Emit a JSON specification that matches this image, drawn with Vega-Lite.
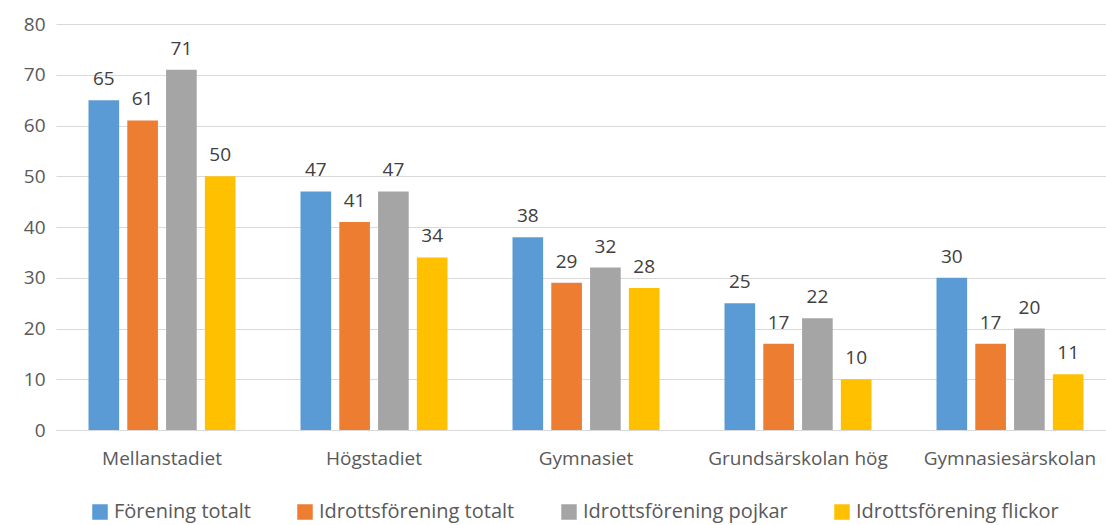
{
  "$schema": "https://vega.github.io/schema/vega-lite/v6.json",
  "autosize": "none",
  "width": 1060,
  "height": 406,
  "padding": {"left": 56, "top": 24, "right": 0, "bottom": 95},
  "background": "white",
  "config": {
    "font": "Open Sans",
    "view": {"stroke": null}
  },
  "data": {
    "values": [
      {"stadium": "Mellanstadiet", "serie": "Förening totalt", "varde": 65},
      {"stadium": "Mellanstadiet", "serie": "Idrottsförening totalt", "varde": 61},
      {"stadium": "Mellanstadiet", "serie": "Idrottsförening pojkar", "varde": 71},
      {"stadium": "Mellanstadiet", "serie": "Idrottsförening flickor", "varde": 50},
      {"stadium": "Högstadiet", "serie": "Förening totalt", "varde": 47},
      {"stadium": "Högstadiet", "serie": "Idrottsförening totalt", "varde": 41},
      {"stadium": "Högstadiet", "serie": "Idrottsförening pojkar", "varde": 47},
      {"stadium": "Högstadiet", "serie": "Idrottsförening flickor", "varde": 34},
      {"stadium": "Gymnasiet", "serie": "Förening totalt", "varde": 38},
      {"stadium": "Gymnasiet", "serie": "Idrottsförening totalt", "varde": 29},
      {"stadium": "Gymnasiet", "serie": "Idrottsförening pojkar", "varde": 32},
      {"stadium": "Gymnasiet", "serie": "Idrottsförening flickor", "varde": 28},
      {"stadium": "Grundsärskolan hög", "serie": "Förening totalt", "varde": 25},
      {"stadium": "Grundsärskolan hög", "serie": "Idrottsförening totalt", "varde": 17},
      {"stadium": "Grundsärskolan hög", "serie": "Idrottsförening pojkar", "varde": 22},
      {"stadium": "Grundsärskolan hög", "serie": "Idrottsförening flickor", "varde": 10},
      {"stadium": "Gymnasiesärskolan", "serie": "Förening totalt", "varde": 30},
      {"stadium": "Gymnasiesärskolan", "serie": "Idrottsförening totalt", "varde": 17},
      {"stadium": "Gymnasiesärskolan", "serie": "Idrottsförening pojkar", "varde": 20},
      {"stadium": "Gymnasiesärskolan", "serie": "Idrottsförening flickor", "varde": 11}
    ]
  },
  "encoding": {
    "x": {
      "field": "stadium", "type": "nominal", "sort": null,
      "scale": {"paddingInner": 0.27, "paddingOuter": 0.135},
      "axis": {"title": null, "labelAngle": 0, "domain": true, "domainColor": "#D9D9D9", "domainWidth": 1, "ticks": false, "labelPadding": 19, "grid": false, "labelFontSize": 19, "labelColor": "#595959", "labelFont": "Open Sans", "labelOverlap": false, "labelLimit": 300}
    },
    "xOffset": {
      "field": "serie", "type": "nominal", "sort": ["Förening totalt", "Idrottsförening totalt", "Idrottsförening pojkar", "Idrottsförening flickor"],
      "scale": {"paddingInner": 0.21, "paddingOuter": 0.1}
    },
    "y": {
      "field": "varde", "type": "quantitative",
      "scale": {"domain": [0, 80], "nice": false},
      "axis": {"title": null, "values": [0,10,20,30,40,50,60,70,80], "domain": false, "ticks": false, "gridColor": "#D9D9D9", "gridWidth": 1, "labelPadding": 11, "labelFontSize": 19, "labelColor": "#595959", "labelFont": "Open Sans", "labelOverlap": false}
    }
  },
  "layer": [
    {
      "mark": {"type": "bar"},
      "encoding": {
        "color": {
          "field": "serie", "type": "nominal",
          "sort": ["Förening totalt", "Idrottsförening totalt", "Idrottsförening pojkar", "Idrottsförening flickor"],
          "scale": {"domain": ["Förening totalt", "Idrottsförening totalt", "Idrottsförening pojkar", "Idrottsförening flickor"], "range": ["#5B9BD5", "#ED7D31", "#A5A5A5", "#FFC000"]},
          "legend": {
            "title": null, "orient": "none", "legendX": 34, "legendY": 478, "direction": "horizontal",
            "symbolType": "square", "symbolSize": 240, "symbolStrokeWidth": 0,
            "labelFontSize": 20, "labelColor": "#595959", "labelFont": "Open Sans",
            "columnPadding": 44, "labelLimit": 400
          }
        }
      }
    },
    {
      "mark": {"type": "text", "baseline": "bottom", "dy": -11, "fontSize": 19, "color": "#404040", "font": "Open Sans"},
      "encoding": {"text": {"field": "varde", "type": "quantitative"}}
    }
  ]
}
